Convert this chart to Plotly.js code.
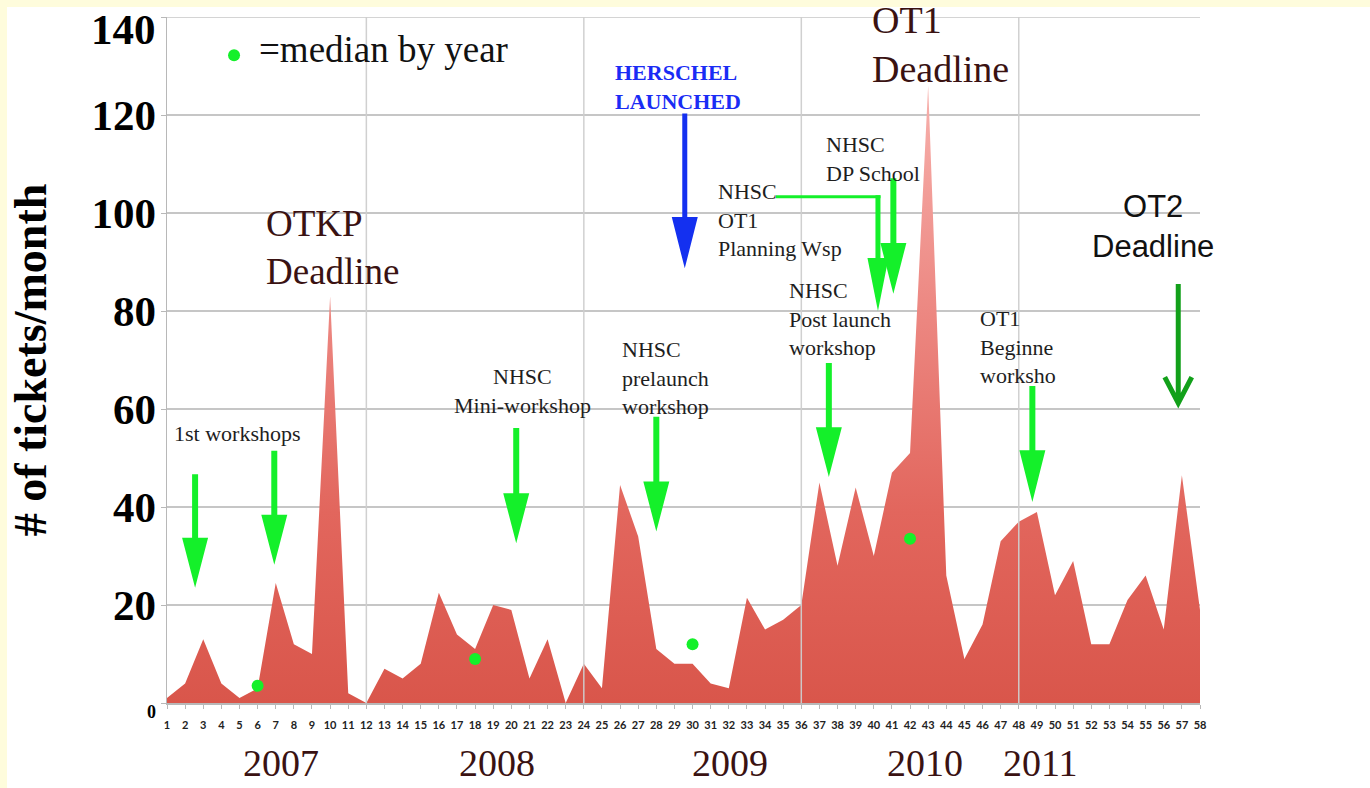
<!DOCTYPE html>
<html>
<head>
<meta charset="utf-8">
<script src="https://cdn.plot.ly/plotly-3.0.1.min.js"></script>
<style>
  html, body { margin: 0; padding: 0; background: #ffffff; width: 1370px; height: 788px; overflow: hidden; }
  .band { position: absolute; background: #fefcdc; }
  #chart { position: absolute; left: 0; top: 0; width: 1370px; height: 788px; }
</style>
</head>
<body>
<div class="band" style="left:0;top:0;width:1370px;height:7px;"></div>
<div class="band" style="left:0;top:0;width:7px;height:788px;"></div>
<div id="chart"></div>
<script>
// ---- data ----
const months = [1,2,3,4,5,6,7,8,9,10,11,12,13,14,15,16,17,18,19,20,21,22,23,24,25,26,27,28,29,30,
  31,32,33,34,35,36,37,38,39,40,41,42,43,44,45,46,47,48,49,50,51,52,53,54,55,56,57,58];
const tickets = [1,4,13,4,1,3,24.5,12,10,83,2,0,
  7,5,8,22.5,14,11,20,19,5,13,0,8,
  3,44.5,34,11,8,8,4,3,21.5,15,17,20,
  45,28,44,30,47,51,126,26,9,16,33,37,
  39,22,29,12,12,21,26,15,46.5,19];
const medianMonths = [6,18,30,42];
const medianValues = [3.5,9,12,33.5];
const yTickVals = [0,20,40,60,80,100,120,140];
// the top label "140" sits a little below its gridline in the reference, so it is drawn as a note
const yTickText = ["<span style='font-size:18px'>0</span>","20","40","60","80","100","120",""];
const topTickLabel = "140";
const xTickText = months.map(String);
const years = ["2007","2008","2009","2010","2011"];
const yearMonth = [7.3,19.2,32.05,42.8,49.2];
const yearSeparators = [12,24,36,48];

// ---- layout helpers ----
const YMAX = 140;
const PXX = 57/1033;   // months per pixel
const GREEN = "#14f02a";
const serif = "Liberation Serif, Times New Roman, serif";

function arrowPath(x, yTop, yHead, yTip, shaftPx, headPx) {
  const s = shaftPx*PXX/2, h = headPx*PXX/2;
  return `M${x-s},${yTop} L${x+s},${yTop} L${x+s},${yHead} L${x+h},${yHead} L${x},${yTip} L${x-h},${yHead} L${x-s},${yHead} Z`;
}

// x, top, headStart, tip, shaft px, head px, colour
const arrows = [
  [2.55, 46.7, 33.7, 23.5, 6, 26, GREEN],
  [6.92, 51.5, 38.4, 28.2, 6, 26, GREEN],
  [20.27, 56.1, 42.8, 32.6, 6, 26, GREEN],
  [28.0, 58.4, 45.2, 35.0, 6, 26, GREEN],
  [37.52, 69.4, 56.3, 46.1, 6, 26, GREEN],
  [40.23, 103.6, 90.8, 80.0, 5, 21, GREEN],
  [41.08, 107.1, 93.9, 83.5, 6, 26, GREEN],
  [48.75, 64.7, 51.6, 41.0, 6, 26, GREEN],
  [29.57, 120.3, 99.2, 88.7, 5, 26, "#1430f0"]
];

const shapes = [];
// top gridline (plotly skips the gridline lying on the plot edge)
shapes.push({type:"line", xref:"paper", yref:"y", x0:0, x1:1, y0:140, y1:140,
  line:{color:"#c6c6c6", width:1.5}, layer:"below"});
yearSeparators.forEach(m => shapes.push({type:"line", xref:"x", yref:"y", x0:m, x1:m, y0:0, y1:140,
  line:{color:"rgba(205,205,205,0.95)", width:1.5}, layer:"above"}));
arrows.forEach(a => shapes.push({type:"path", xref:"x", yref:"y", path:arrowPath(a[0],a[1],a[2],a[3],a[4],a[5]),
  fillcolor:a[6], line:{width:0}, layer:"above"}));
// horizontal leg of the "Planning Wsp" arrow
shapes.push({type:"line", xref:"x", yref:"y", x0:34.6, x1:40.23+0.14, y0:103.3, y1:103.3,
  line:{color:GREEN, width:3}, layer:"above"});
// OT2 dark green arrow
shapes.push({type:"path", xref:"x", yref:"y",
  path:`M56.8,85.5 L56.8,61.4 M${56.8-13.5*PXX},66.5 L56.8,61.2 L${56.8+13.5*PXX},66.5`,
  line:{color:"#12a01a", width:5}, layer:"above"});

function note(text, x, y, size, opts) {
  return Object.assign({text:text, x:x, y:y, xref:"x", yref:"y", showarrow:false,
    xanchor:"left", yanchor:"middle", align:"left",
    font:{family:serif, size:size, color:"#1e1e1e"}}, opts||{});
}
const brown = "#3a1212";
const annotations = [
  note(topTickLabel, 0, 140, 43, {xref:"paper", xanchor:"right", yanchor:"middle", xshift:-9, yshift:-12,
    font:{family:serif, size:43, color:"#000", weight:"bold"}}),
  note("=median by year", 5.98, 133.3, 37, {font:{family:serif, size:37, color:"#111"}}),
  note("OTKP<br>Deadline", 6.36, 92.9, 37, {font:{family:serif, size:37, color:brown}}),
  note("OT1<br>Deadline", 39.8, 134.3, 38, {font:{family:serif, size:38, color:brown}}),
  note("HERSCHEL<br>LAUNCHED", 25.6, 125.7, 22, {font:{family:serif, size:22, color:"#1a2cf5", weight:"bold"}}),
  note("1st workshops", 1.28, 55.1, 22),
  note("NHSC<br>Mini-workshop", 20.6, 63.7, 22, {xanchor:"center", align:"center"}),
  note("NHSC<br>prelaunch<br>workshop", 25.97, 66.3, 22),
  note("NHSC<br>OT1<br>Planning Wsp", 31.3, 98.6, 22),
  note("NHSC<br>DP School", 37.25, 111.0, 22),
  note("NHSC<br>Post launch<br>workshop", 35.2, 78.4, 22),
  note("OT1<br>Beginne<br>worksho", 45.75, 72.6, 22),
  note("OT2<br>Deadline", 55.4, 97.2, 31, {xanchor:"center", align:"center",
    font:{family:"Liberation Sans, Arial, sans-serif", size:31, color:"#111"}})
];
years.forEach((t,i) => annotations.push(note(t, yearMonth[i], -12.2/YMAX, 38,
  {yref:"paper", xanchor:"center", align:"center", font:{family:serif, size:38, color:brown}})));

const traces = [
  {x:months, y:tickets, type:"scatter", mode:"lines", fill:"tozeroy", line:{width:0, color:"#e06058"},
   fillgradient:{type:"vertical", start:0, stop:130,
     colorscale:[[0,"#d9564b"],[0.3,"#e2665d"],[0.6,"#ec8680"],[1,"#f8b4b0"]]},
   hoverinfo:"skip", showlegend:false},
  {x:medianMonths, y:medianValues, type:"scatter", mode:"markers",
   marker:{color:GREEN, size:12}, showlegend:false},
  {x:[4.7], y:[132.2], type:"scatter", mode:"markers", marker:{color:GREEN, size:12},
   showlegend:false, cliponaxis:false}
];

const layout = {
  width:1370, height:788,
  margin:{l:167, r:170, t:17, b:85},
  paper_bgcolor:"rgba(0,0,0,0)", plot_bgcolor:"rgba(0,0,0,0)",
  showlegend:false,
  xaxis:{range:[1,58], tickvals:months, ticktext:xTickText, tickmode:"array",
    showgrid:false, zeroline:false, showline:true, linecolor:"#b8b8b8", linewidth:1.5,
    ticks:"outside", ticklen:4, tickcolor:"#b8b8b8", tickangle:0, ticklabelstandoff:7,
    tickfont:{family:"Lato, Liberation Sans, sans-serif", size:11, color:"#222", weight:"bold"}},
  yaxis:{range:[0,YMAX], tickvals:yTickVals, ticktext:yTickText, tickmode:"array",
    ticklabelstandoff:-4,
    showgrid:true, gridcolor:"#c6c6c6", gridwidth:1.5, zeroline:false,
    showline:true, linecolor:"#b8b8b8", linewidth:1.5,
    ticks:"outside", ticklen:5, tickcolor:"#b8b8b8",
    tickfont:{family:serif, size:43, color:"#000", weight:"bold"},
    title:{text:"# of tickets/month", standoff:30,
      font:{family:serif, size:46, color:"#000", weight:"bold"}}},
  shapes:shapes,
  annotations:annotations
};

Plotly.newPlot("chart", traces, layout, {displayModeBar:false, staticPlot:true});
</script>
</body>
</html>
